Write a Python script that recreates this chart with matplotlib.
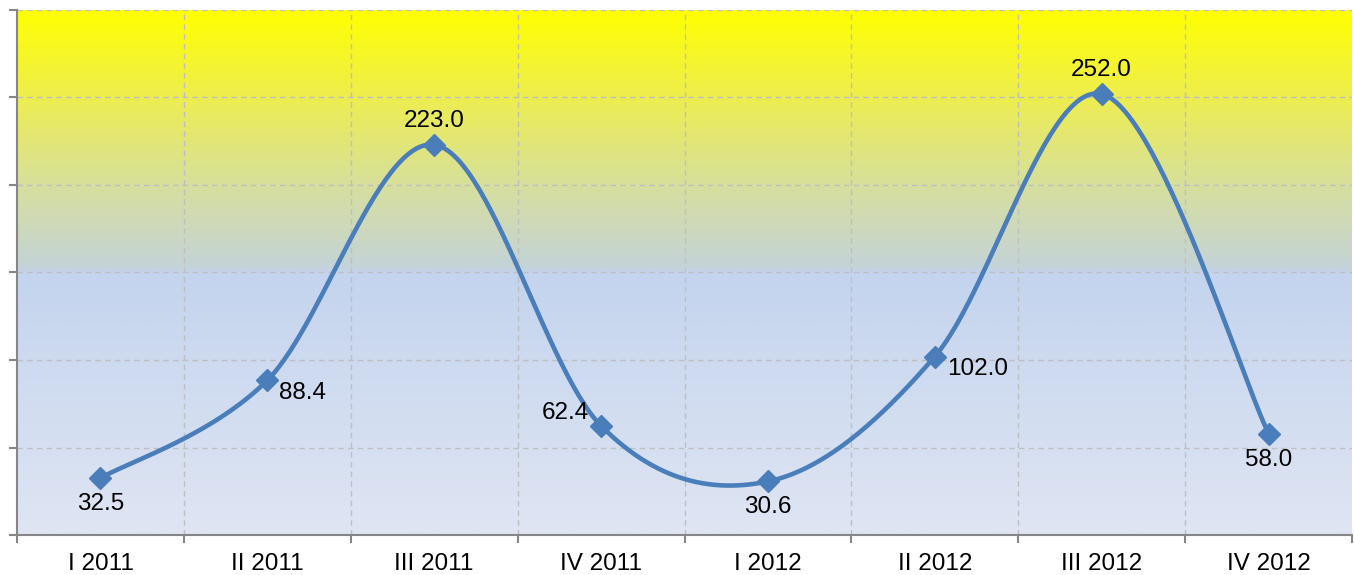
import numpy as np
import matplotlib
matplotlib.use("Agg")
import matplotlib.pyplot as plt
from matplotlib.colors import LinearSegmentedColormap

categories = ["I 2011", "II 2011", "III 2011", "IV 2011", "I 2012", "II 2012", "III 2012", "IV 2012"]
values = [32.5, 88.4, 223.0, 62.4, 30.6, 102.0, 252.0, 58.0]
value_labels = ["32.5", "88.4", "223.0", "62.4", "30.6", "102.0", "252.0", "58.0"]
label_pos = ["below", "right", "above", "left", "below", "right", "above", "below"]

plt.rcParams['font.family'] = ['Liberation Sans', 'DejaVu Sans']

fig = plt.figure(figsize=(13.54, 5.75), dpi=100)
ax = fig.add_axes([17/1354, 1 - 535/575, (1352 - 17)/1354, 525/575])

n = len(categories)
x = np.arange(n)
ax.set_xlim(-0.5, n - 0.5)
ax.set_ylim(0, 300)

# gradient background
stops = [(0.0, "#DFE5F3"), (0.5, "#C4D4EE"), (0.51, "#C4D3D8"),
         (0.66, "#D6DFA0"), (0.83, "#EDED52"), (1.0, "#FFFF00")]
cmap = LinearSegmentedColormap.from_list("bg", stops)
grad = np.linspace(0, 1, 600).reshape(-1, 1)
ax.imshow(grad, aspect="auto", cmap=cmap, origin="lower",
          extent=[-0.5, n - 0.5, 0, 300], zorder=0, interpolation="bilinear")

# grid
for yv in np.arange(50, 301, 50):
    ax.axhline(yv, color="#BFBFBF", lw=1, ls=(0, (4, 3)), zorder=1)
for xv in np.arange(0.5, n - 0.5, 1):
    ax.axvline(xv, color="#BFBFBF", lw=1, ls=(0, (4, 3)), zorder=1)

# smooth curve (Catmull-Rom / Excel-style Bezier)
P = np.column_stack([x, values]).astype(float)
Pext = np.vstack([P[0], P, P[-1]])
curve = []
t = np.linspace(0, 1, 60)
for i in range(n - 1):
    p0, p1, p2, p3 = Pext[i], Pext[i + 1], Pext[i + 2], Pext[i + 3]
    c1 = p1 + (p2 - p0) / 6
    c2 = p2 - (p3 - p1) / 6
    seg = ((1 - t)[:, None] ** 3 * p1 + 3 * ((1 - t) ** 2 * t)[:, None] * c1
           + 3 * ((1 - t) * t ** 2)[:, None] * c2 + (t ** 3)[:, None] * p2)
    curve.append(seg)
curve = np.vstack(curve)
ax.plot(curve[:, 0], curve[:, 1], color="#4A7EBB", lw=3.3, zorder=3, solid_capstyle="round")
ax.plot(x, values, ls="none", marker="D", ms=11.5, color="#4A7EBB", zorder=4)

offsets = {"below": (0, -26, "center", "center"),
           "above": (0, 24, "center", "center"),
           "right": (35, -13, "center", "center"),
           "left": (-36, 13, "center", "center")}
for xi, v, lab, pos in zip(x, values, value_labels, label_pos):
    dx, dy, ha, va = offsets[pos]
    if pos == "right" and len(lab) > 4:
        dx += 8
    ax.annotate(lab, (xi, v), xytext=(dx * 0.72, dy * 0.72), textcoords="offset points",
                ha=ha, va=va, fontsize=17.5, color="black", zorder=5)

# spines and ticks
for s in ["top", "right"]:
    ax.spines[s].set_visible(False)
ax.spines["left"].set_color("#868686")
ax.spines["bottom"].set_color("#868686")
ax.spines["left"].set_linewidth(1.5)
ax.spines["bottom"].set_linewidth(1.5)
ax.set_yticks(np.arange(0, 301, 50))
ax.set_yticklabels([])
ax.set_xticks(np.arange(-0.5, n, 1), minor=False)
ax.set_xticklabels([])
ax.set_xticks(x, minor=True)
ax.set_xticklabels(categories, minor=True, fontsize=17.5)
ax.tick_params(axis="x", which="minor", length=0, pad=13)
ax.tick_params(axis="x", which="major", length=6, color="#868686", width=1.5, direction="out")
ax.tick_params(axis="y", length=6, color="#868686", width=1.5, direction="out")

fig.savefig("out.png", dpi=100)
